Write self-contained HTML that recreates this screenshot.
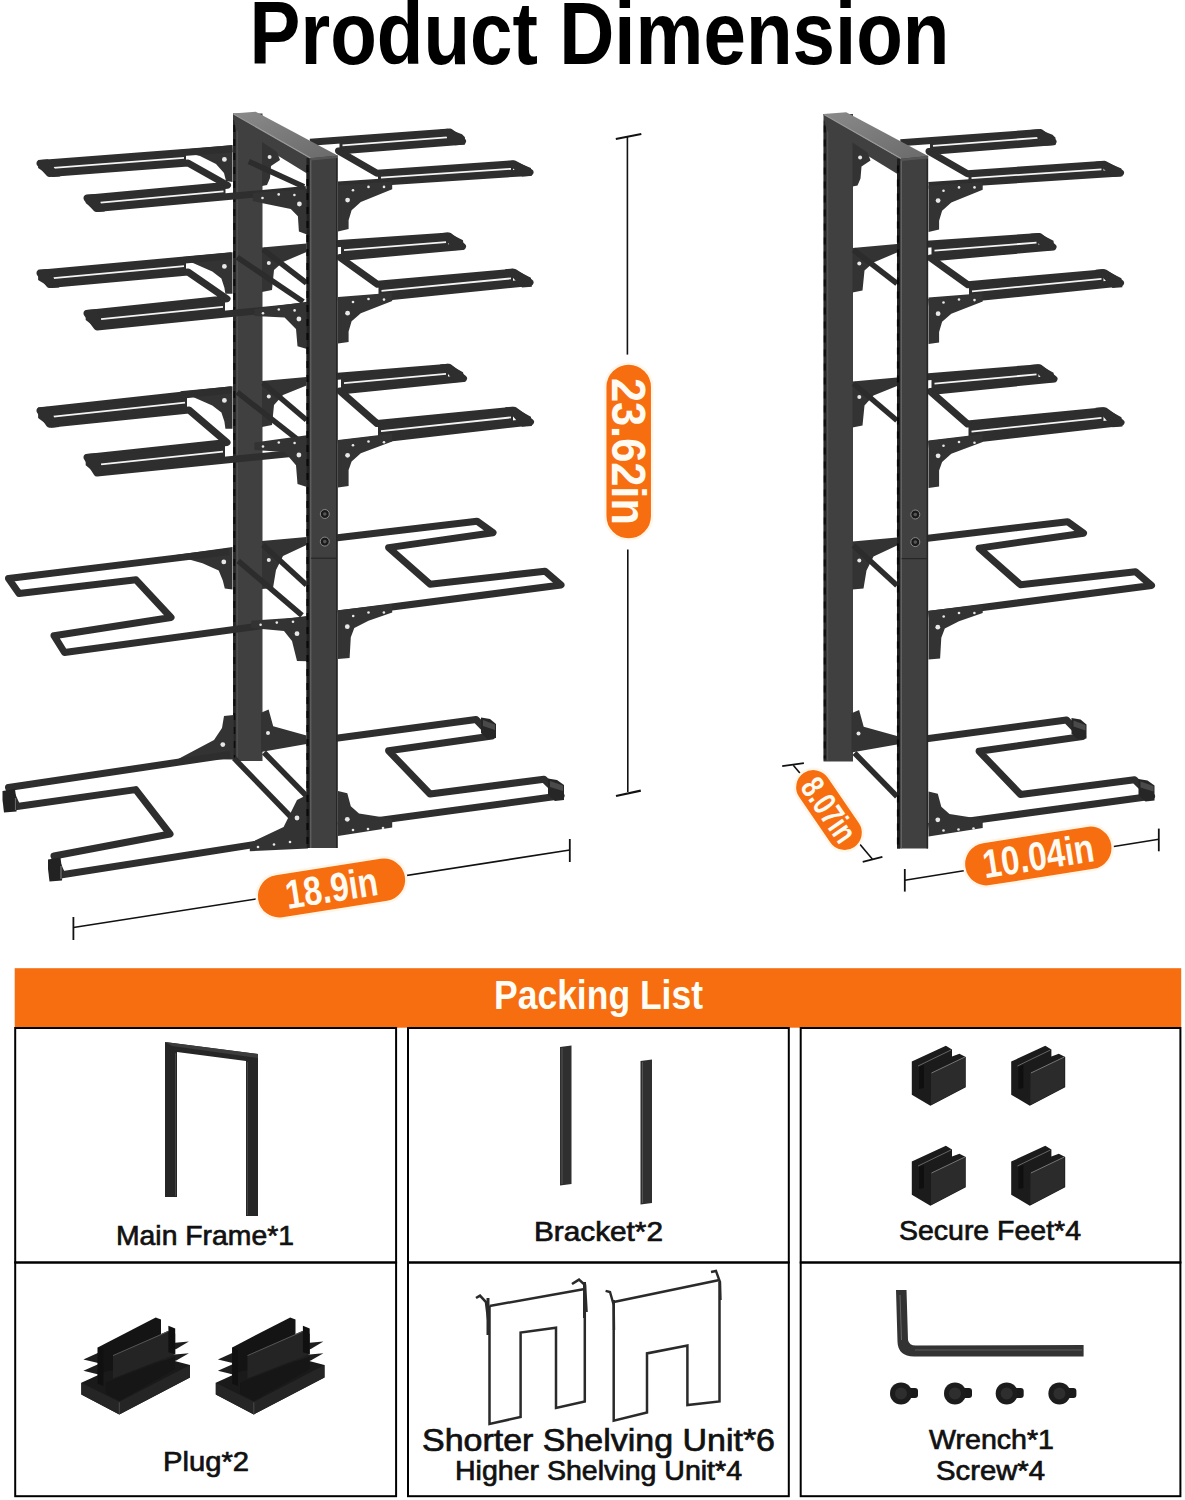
<!DOCTYPE html>
<html><head><meta charset="utf-8"><style>
html,body{margin:0;padding:0;background:#fff;}
svg{display:block;font-family:"Liberation Sans",sans-serif;}
</style></head><body>
<svg width="1185" height="1500" viewBox="0 0 1185 1500">
<rect width="1185" height="1500" fill="#fff"/>
<text x="249.5" y="63.5" font-size="88.5" font-weight="bold" fill="#000" text-anchor="start" textLength="700" lengthAdjust="spacingAndGlyphs" >Product Dimension</text>
<rect x="14.7" y="968.2" width="1166.5" height="59.5" fill="#f76e10"/>
<text x="494" y="1008.5" font-size="41" font-weight="bold" fill="#fffdf5" text-anchor="start" textLength="209" lengthAdjust="spacingAndGlyphs" >Packing List</text>
<rect x="15.2" y="1028" width="380.90000000000003" height="234.5" fill="none" stroke="#000" stroke-width="2"/>
<rect x="15.2" y="1262.5" width="380.90000000000003" height="233.70000000000005" fill="none" stroke="#000" stroke-width="2"/>
<rect x="408" y="1028" width="380.79999999999995" height="234.5" fill="none" stroke="#000" stroke-width="2"/>
<rect x="408" y="1262.5" width="380.79999999999995" height="233.70000000000005" fill="none" stroke="#000" stroke-width="2"/>
<rect x="800.7" y="1028" width="379.70000000000005" height="234.5" fill="none" stroke="#000" stroke-width="2"/>
<rect x="800.7" y="1262.5" width="379.70000000000005" height="233.70000000000005" fill="none" stroke="#000" stroke-width="2"/>
<text x="116" y="1245" font-size="28.5" font-weight="normal" fill="#111" text-anchor="start" textLength="178" lengthAdjust="spacingAndGlyphs" stroke="#111" stroke-width="0.7">Main Frame*1</text>
<text x="534" y="1240.7" font-size="28" font-weight="normal" fill="#111" text-anchor="start" textLength="129" lengthAdjust="spacingAndGlyphs" stroke="#111" stroke-width="0.7">Bracket*2</text>
<text x="899" y="1240" font-size="28" font-weight="normal" fill="#111" text-anchor="start" textLength="182" lengthAdjust="spacingAndGlyphs" stroke="#111" stroke-width="0.7">Secure Feet*4</text>
<text x="163" y="1471" font-size="28" font-weight="normal" fill="#111" text-anchor="start" textLength="86" lengthAdjust="spacingAndGlyphs" stroke="#111" stroke-width="0.7">Plug*2</text>
<text x="422" y="1451" font-size="31" font-weight="normal" fill="#111" text-anchor="start" textLength="353" lengthAdjust="spacingAndGlyphs" stroke="#111" stroke-width="0.7">Shorter Shelving Unit*6</text>
<text x="455" y="1480" font-size="27" font-weight="normal" fill="#111" text-anchor="start" textLength="287" lengthAdjust="spacingAndGlyphs" stroke="#111" stroke-width="0.7">Higher Shelving Unit*4</text>
<text x="929" y="1449.3" font-size="27.5" font-weight="normal" fill="#111" text-anchor="start" textLength="125" lengthAdjust="spacingAndGlyphs" stroke="#111" stroke-width="0.7">Wrench*1</text>
<text x="936" y="1480" font-size="27.5" font-weight="normal" fill="#111" text-anchor="start" textLength="109" lengthAdjust="spacingAndGlyphs" stroke="#111" stroke-width="0.7">Screw*4</text>
<defs><linearGradient id="tbg" x1="0" y1="0" x2="1" y2="1"><stop offset="0" stop-color="#8a8a8a"/><stop offset="1" stop-color="#6a6a6a"/></linearGradient></defs>
<g id="rackL"><polyline points="310.0,142.2 450.0,132.0 462.5,141.3 338.5,151.0 377.0,173.2 514.0,163.8 530.0,172.4 338.0,185.0" fill="none" stroke="#2e2e2e" stroke-width="7" stroke-linejoin="round" stroke-linecap="butt" stroke-miterlimit="6" />
<polygon points="339.5,140.1 449.0,132.1 449.0,142.4 339.5,150.9" fill="#2e2e2e" />
<line x1="342.5" y1="145.3" x2="447.0" y2="137.4" stroke="#f4f4f4" stroke-width="1.8" stroke-linecap="butt"/>
<polygon points="378.0,173.1 513.0,163.9 513.0,173.5 378.0,182.4" fill="#2e2e2e" />
<line x1="381.0" y1="177.6" x2="511.0" y2="168.8" stroke="#f4f4f4" stroke-width="1.8" stroke-linecap="butt"/>
<polygon points="440.0,129.4 447.8,128.8 462.0,134.2 465.0,137.3 465.0,144.4 455.0,145.2" fill="#2e2e2e" />
<polygon points="505.0,161.2 512.7,160.6 530.9,168.0 531.9,175.8 522.0,176.5" fill="#2e2e2e" />
<polyline points="310.0,245.5 449.0,236.0 462.5,246.5 340.0,257.5 377.5,284.3 514.0,272.2 530.0,282.5 338.0,302.0" fill="none" stroke="#2e2e2e" stroke-width="7" stroke-linejoin="round" stroke-linecap="butt" stroke-miterlimit="6" />
<polygon points="341.0,243.4 448.0,236.1 448.0,247.8 341.0,257.4" fill="#2e2e2e" />
<line x1="344.0" y1="250.2" x2="446.0" y2="242.1" stroke="#f4f4f4" stroke-width="1.8" stroke-linecap="butt"/>
<polygon points="378.5,284.2 513.0,272.3 513.0,284.2 378.5,297.9" fill="#2e2e2e" />
<line x1="381.5" y1="290.8" x2="511.0" y2="278.4" stroke="#f4f4f4" stroke-width="1.8" stroke-linecap="butt"/>
<polygon points="440.0,233.2 447.8,232.6 463.0,240.3 464.0,249.4 454.0,250.2" fill="#2e2e2e" />
<polygon points="505.0,269.2 512.7,268.6 530.9,277.7 531.9,286.8 522.0,287.5" fill="#2e2e2e" />
<polyline points="310.0,378.5 449.0,367.2 463.5,378.5 340.0,391.0 377.0,423.5 514.0,410.2 530.5,422.0 338.0,444.0" fill="none" stroke="#2e2e2e" stroke-width="7" stroke-linejoin="round" stroke-linecap="butt" stroke-miterlimit="6" />
<polygon points="341.0,376.0 448.0,367.3 448.0,380.1 341.0,390.9" fill="#2e2e2e" />
<line x1="344.0" y1="383.2" x2="446.0" y2="373.9" stroke="#f4f4f4" stroke-width="1.8" stroke-linecap="butt"/>
<polygon points="378.0,423.4 513.0,410.3 513.0,424.0 378.0,439.4" fill="#2e2e2e" />
<line x1="381.0" y1="431.1" x2="511.0" y2="417.4" stroke="#f4f4f4" stroke-width="1.8" stroke-linecap="butt"/>
<polygon points="440.0,364.4 447.8,363.8 463.0,372.3 465.0,381.4 455.0,382.2" fill="#2e2e2e" />
<polygon points="505.0,407.3 512.7,406.7 530.9,416.8 531.9,426.0 522.0,426.7" fill="#2e2e2e" />
<polyline points="310.0,541.0 477.0,521.2 493.0,532.7 388.6,547.6 430.0,584.2 545.0,571.2 561.0,585.0 338.0,614.0" fill="none" stroke="#2e2e2e" stroke-width="7" stroke-linejoin="round" stroke-linecap="butt" stroke-miterlimit="6" />
<polyline points="310.0,741.8 476.0,719.5 492.0,736.0 388.6,750.8 430.0,794.0 544.0,779.2 561.0,795.8 338.0,826.0" fill="none" stroke="#2e2e2e" stroke-width="7" stroke-linejoin="round" stroke-linecap="butt" stroke-miterlimit="6" />
<polygon points="481.0,717.5 490.0,719.0 496.0,724.0 496.0,738.0 487.0,739.0 481.0,733.0" fill="#262626" />
<polygon points="483.0,720.0 495.0,724.5 495.0,730.0 483.0,726.0" fill="#4a4a4a" />
<polygon points="548.0,778.5 557.0,780.0 564.0,785.0 564.0,800.0 555.0,801.0 548.0,795.0" fill="#262626" />
<polygon points="550.0,781.0 563.0,785.5 563.0,791.0 550.0,787.0" fill="#4a4a4a" />
<polygon points="233.0,113.5 262.5,113.5 262.5,761.0 233.0,761.0" fill="#404040" />
<line x1="234.5" y1="120.0" x2="234.5" y2="760.0" stroke="#262626" stroke-width="2.5" stroke-linecap="butt"/>
<line x1="237.2" y1="130.0" x2="237.2" y2="760.0" stroke="#555" stroke-width="1" stroke-linecap="butt"/>
<line x1="234.3" y1="125" x2="234.3" y2="758" stroke="#0c0c0c" stroke-width="2" stroke-dasharray="7 7"/>
<polygon points="233.0,113.5 310.5,158.2 309.0,174.8 236.0,130.0" fill="#404040" />
<polygon points="262.0,142.0 277.0,152.0 280.0,160.0 271.0,166.0 270.0,178.0 267.0,185.0 262.0,186.0" fill="#333333" />
<circle cx="269.6" cy="157.0" r="2" fill="#e8e8e8"/>
<polygon points="262.0,247.5 306.5,243.5 306.5,252.0 283.0,262.0 274.0,270.0 272.0,290.0 262.0,292.0" fill="#333333" />
<line x1="263.0" y1="249.5" x2="306.5" y2="283.0" stroke="#2c2c2c" stroke-width="5.5" stroke-linecap="butt"/>
<circle cx="268.8" cy="263.0" r="2" fill="#e8e8e8"/>
<polygon points="262.0,381.0 306.5,377.0 306.5,385.5 283.0,395.0 274.0,405.0 272.0,425.0 262.0,427.0" fill="#333333" />
<line x1="263.0" y1="383.0" x2="306.5" y2="420.0" stroke="#2c2c2c" stroke-width="5.5" stroke-linecap="butt"/>
<circle cx="268.8" cy="396.5" r="2" fill="#e8e8e8"/>
<polygon points="262.0,541.0 306.5,537.0 306.5,545.0 283.0,556.0 276.0,570.0 273.0,588.0 262.0,589.0" fill="#333333" />
<line x1="263.0" y1="545.0" x2="306.5" y2="585.0" stroke="#2c2c2c" stroke-width="5.5" stroke-linecap="butt"/>
<circle cx="268.8" cy="560.0" r="2" fill="#e8e8e8"/>
<polygon points="261.0,712.7 268.6,709.6 273.2,726.3 306.5,735.5 306.5,744.0 261.0,752.1" fill="#333333" />
<line x1="264.0" y1="752.5" x2="306.5" y2="796.0" stroke="#2c2c2c" stroke-width="5.5" stroke-linecap="butt"/>
<circle cx="268.0" cy="733.0" r="2" fill="#e8e8e8"/>
<line x1="248.8" y1="161.5" x2="304.0" y2="186.8" stroke="#2c2c2c" stroke-width="5.5" stroke-linecap="butt"/>
<line x1="237.2" y1="257.3" x2="303.2" y2="301.8" stroke="#2c2c2c" stroke-width="5.5" stroke-linecap="butt"/>
<line x1="237.2" y1="392.2" x2="303.2" y2="443.8" stroke="#2c2c2c" stroke-width="5.5" stroke-linecap="butt"/>
<line x1="238.2" y1="560.8" x2="302.0" y2="615.4" stroke="#2c2c2c" stroke-width="5.5" stroke-linecap="butt"/>
<line x1="234.0" y1="758.2" x2="292.9" y2="819.0" stroke="#2c2c2c" stroke-width="5.5" stroke-linecap="butt"/>
<polygon points="176.0,150.3 232.5,145.0 232.5,182.0 226.0,181.0 224.0,173.0 216.0,164.0 200.0,156.0" fill="#333333" />
<circle cx="224.4" cy="159.4" r="2.4" fill="#e8e8e8"/>
<polygon points="179.9,257.3 232.5,252.2 232.5,293.7 225.4,293.7 224.4,287.7 221.4,278.5 212.3,271.5" fill="#333333" />
<circle cx="224.4" cy="266.4" r="2.4" fill="#e8e8e8"/>
<polygon points="179.9,391.3 232.5,386.2 232.5,428.7 225.4,428.7 224.4,421.6 221.4,412.5 212.3,405.4" fill="#333333" />
<circle cx="224.4" cy="400.4" r="2.4" fill="#e8e8e8"/>
<polygon points="174.2,555.2 232.5,547.1 232.5,589.6 224.8,588.6 222.8,580.5 218.7,570.4 202.5,563.3" fill="#333333" />
<circle cx="223.8" cy="561.9" r="2.4" fill="#e8e8e8"/>
<polygon points="178.2,759.0 214.0,740.0 222.0,728.0 224.0,716.0 233.6,714.9 233.6,759.4" fill="#333333" />
<circle cx="222.8" cy="744.6" r="2.4" fill="#e8e8e8"/>
<polyline points="232.5,148.7 40.0,163.4 49.5,173.6 188.0,163.0 227.5,185.2 87.0,198.3 96.5,208.5 306.0,189.6" fill="none" stroke="#2e2e2e" stroke-width="7" stroke-linejoin="round" stroke-linecap="butt" stroke-miterlimit="6" />
<polygon points="50.5,162.6 186.0,152.3 186.0,163.2 50.5,173.5" fill="#2e2e2e" />
<line x1="53.5" y1="167.8" x2="184.0" y2="157.9" stroke="#f4f4f4" stroke-width="1.8" stroke-linecap="butt"/>
<polygon points="97.5,197.3 225.5,185.4 225.5,196.9 97.5,208.4" fill="#2e2e2e" />
<line x1="100.5" y1="202.6" x2="223.5" y2="191.3" stroke="#f4f4f4" stroke-width="1.8" stroke-linecap="butt"/>
<polygon points="38.1,160.0 48.1,159.2 60.3,176.4 52.3,177.0 38.1,168.0" fill="#2e2e2e" />
<polygon points="85.7,194.8 95.7,194.0 104.8,211.4 96.8,212.0 85.7,203.0" fill="#2e2e2e" />
<polyline points="231.5,255.7 40.0,273.2 49.5,284.6 188.0,272.0 227.0,298.8 87.0,313.4 97.0,326.9 306.0,306.0" fill="none" stroke="#2e2e2e" stroke-width="7" stroke-linejoin="round" stroke-linecap="butt" stroke-miterlimit="6" />
<polygon points="50.5,272.2 186.0,259.9 186.0,272.2 50.5,284.5" fill="#2e2e2e" />
<line x1="53.5" y1="278.1" x2="184.0" y2="266.2" stroke="#f4f4f4" stroke-width="1.8" stroke-linecap="butt"/>
<polygon points="98.0,312.3 225.0,299.0 225.0,314.1 98.0,326.8" fill="#2e2e2e" />
<line x1="101.0" y1="319.2" x2="223.0" y2="306.8" stroke="#f4f4f4" stroke-width="1.8" stroke-linecap="butt"/>
<polygon points="38.1,269.8 48.1,269.0 59.3,287.4 51.3,288.0 38.1,280.0" fill="#2e2e2e" />
<polygon points="85.7,310.0 95.7,309.2 105.8,328.6 97.8,329.2 85.7,320.0" fill="#2e2e2e" />
<polyline points="231.5,389.7 40.0,410.8 49.5,424.3 189.0,410.0 227.0,442.5 87.0,457.4 97.0,473.0 306.0,452.0" fill="none" stroke="#2e2e2e" stroke-width="7" stroke-linejoin="round" stroke-linecap="butt" stroke-miterlimit="6" />
<polygon points="50.5,409.6 187.0,394.6 187.0,410.2 50.5,424.2" fill="#2e2e2e" />
<line x1="53.5" y1="416.6" x2="185.0" y2="402.6" stroke="#f4f4f4" stroke-width="1.8" stroke-linecap="butt"/>
<polygon points="98.0,456.2 225.0,442.7 225.0,460.1 98.0,472.9" fill="#2e2e2e" />
<line x1="101.0" y1="464.3" x2="223.0" y2="451.6" stroke="#f4f4f4" stroke-width="1.8" stroke-linecap="butt"/>
<polygon points="38.1,407.5 48.1,406.7 59.3,427.1 51.3,427.7 38.1,418.0" fill="#2e2e2e" />
<polygon points="85.7,454.0 95.7,453.2 105.8,474.7 97.8,475.3 85.7,465.2" fill="#2e2e2e" />
<polyline points="229.0,551.6 8.5,578.5 19.0,593.5 136.0,579.8 171.0,617.5 54.0,635.7 64.5,652.5 307.0,619.5" fill="none" stroke="#2e2e2e" stroke-width="7" stroke-linejoin="round" stroke-linecap="butt" stroke-miterlimit="6" />
<polyline points="230.0,754.5 8.5,787.5 17.0,806.5 135.7,789.6 170.0,834.0 54.0,856.0 62.0,874.8 307.0,836.3" fill="none" stroke="#2e2e2e" stroke-width="7" stroke-linejoin="round" stroke-linecap="butt" stroke-miterlimit="6" />
<polygon points="2.5,791.0 15.0,789.0 17.0,805.0 16.5,811.5 4.0,812.5 2.5,800.0" fill="#222" />
<polygon points="48.0,859.5 60.5,857.5 62.5,873.0 62.0,880.5 49.5,881.5 48.0,869.0" fill="#222" />
<line x1="15.5" y1="798.0" x2="15.5" y2="810.0" stroke="#666" stroke-width="1.2" stroke-linecap="butt"/>
<line x1="61.0" y1="866.0" x2="61.0" y2="879.0" stroke="#777" stroke-width="1.2" stroke-linecap="butt"/>
<polygon points="252.8,192.9 307.0,188.9 307.0,234.4 298.9,231.4 297.9,216.2 290.8,209.1 261.5,203.0 252.8,201.0" fill="#333333" />
<circle cx="262.5" cy="198.0" r="1.3" fill="#e8e8e8"/>
<circle cx="278.7" cy="194.4" r="1.3" fill="#e8e8e8"/>
<circle cx="294.4" cy="195.0" r="1.3" fill="#e8e8e8"/>
<circle cx="299.4" cy="204.0" r="2.4" fill="#e8e8e8"/>
<polygon points="254.4,309.0 307.0,301.8 307.0,349.1 297.5,346.3 296.0,329.0 284.6,317.6 254.4,316.1" fill="#333333" />
<circle cx="263.0" cy="313.3" r="1.3" fill="#e8e8e8"/>
<circle cx="278.8" cy="309.5" r="1.3" fill="#e8e8e8"/>
<circle cx="294.6" cy="310.4" r="1.3" fill="#e8e8e8"/>
<circle cx="298.9" cy="319.0" r="2.4" fill="#e8e8e8"/>
<polygon points="254.4,442.4 307.0,435.2 307.0,486.9 297.5,484.0 296.0,465.3 284.6,452.0 254.4,450.0" fill="#333333" />
<circle cx="263.0" cy="446.5" r="1.3" fill="#e8e8e8"/>
<circle cx="278.8" cy="442.5" r="1.3" fill="#e8e8e8"/>
<circle cx="294.6" cy="443.0" r="1.3" fill="#e8e8e8"/>
<circle cx="298.9" cy="455.0" r="2.4" fill="#e8e8e8"/>
<polygon points="251.1,620.7 307.9,616.7 307.9,661.2 297.0,661.0 292.0,641.0 284.0,631.0 251.1,628.0" fill="#333333" />
<circle cx="260.6" cy="624.8" r="1.3" fill="#e8e8e8"/>
<circle cx="276.8" cy="622.6" r="1.3" fill="#e8e8e8"/>
<circle cx="293.0" cy="621.8" r="1.3" fill="#e8e8e8"/>
<circle cx="297.0" cy="633.7" r="2.4" fill="#e8e8e8"/>
<polygon points="249.8,843.1 283.6,827.0 297.0,800.0 307.9,794.5 307.9,848.5 249.8,851.2" fill="#333333" />
<circle cx="258.0" cy="847.0" r="1.3" fill="#e8e8e8"/>
<circle cx="274.0" cy="844.5" r="1.3" fill="#e8e8e8"/>
<circle cx="290.0" cy="842.0" r="1.3" fill="#e8e8e8"/>
<circle cx="297.0" cy="818.0" r="2.4" fill="#e8e8e8"/>
<polygon points="306.5,156.0 337.6,155.2 337.6,848.0 306.5,848.0" fill="#404040" />
<line x1="308.0" y1="158.0" x2="308.0" y2="848.0" stroke="#1f1f1f" stroke-width="3" stroke-linecap="butt"/>
<line x1="310.8" y1="160.0" x2="310.8" y2="848.0" stroke="#6a6a6a" stroke-width="1" stroke-linecap="butt"/>
<line x1="307.5" y1="165" x2="307.5" y2="845" stroke="#0a0a0a" stroke-width="2.2" stroke-dasharray="7 7"/>
<line x1="336.8" y1="158.0" x2="336.8" y2="848.0" stroke="#262626" stroke-width="1.6" stroke-linecap="butt"/>
<line x1="311.0" y1="558.2" x2="336.0" y2="558.2" stroke="#222" stroke-width="1" stroke-linecap="butt"/>
<circle cx="324.8" cy="514" r="4.5" fill="#1a1a1a" stroke="#8a8a8a" stroke-width="1"/>
<circle cx="324.8" cy="514" r="1.8" fill="#555"/>
<circle cx="324.8" cy="541.6" r="4.5" fill="#1a1a1a" stroke="#8a8a8a" stroke-width="1"/>
<circle cx="324.8" cy="541.6" r="1.8" fill="#555"/>
<polygon points="232.9,113.5 255.7,111.8 337.6,155.4 310.5,158.2" fill="url(#tbg)" />
<line x1="233.5" y1="114.0" x2="310.5" y2="158.0" stroke="#9a9a9a" stroke-width="1.2" stroke-linecap="butt"/>
<polygon points="310.5,158.2 337.6,155.4 337.6,158.0 310.5,160.5" fill="#555" />
<polygon points="338.0,185.2 392.2,181.5 392.2,189.2 360.8,202.1 351.6,210.2 348.6,220.3 348.6,229.0 338.0,231.5" fill="#333333" />
<circle cx="353.0" cy="190.3" r="1.3" fill="#e8e8e8"/>
<circle cx="368.5" cy="186.9" r="1.3" fill="#e8e8e8"/>
<circle cx="384.0" cy="186.9" r="1.3" fill="#e8e8e8"/>
<circle cx="347.6" cy="200.1" r="2.4" fill="#e8e8e8"/>
<polygon points="338.0,297.0 392.2,292.8 392.2,301.0 360.8,313.2 351.6,321.3 348.6,331.4 348.6,342.0 338.0,343.5" fill="#333333" />
<circle cx="353.0" cy="302.0" r="1.3" fill="#e8e8e8"/>
<circle cx="368.5" cy="299.0" r="1.3" fill="#e8e8e8"/>
<circle cx="384.0" cy="299.6" r="1.3" fill="#e8e8e8"/>
<circle cx="347.6" cy="313.2" r="2.4" fill="#e8e8e8"/>
<polygon points="338.0,440.1 392.2,433.6 392.2,441.5 360.8,453.3 351.6,461.4 348.6,470.0 348.6,486.0 338.0,487.5" fill="#333333" />
<circle cx="353.0" cy="445.2" r="1.3" fill="#e8e8e8"/>
<circle cx="368.5" cy="441.5" r="1.3" fill="#e8e8e8"/>
<circle cx="384.0" cy="442.2" r="1.3" fill="#e8e8e8"/>
<circle cx="347.6" cy="455.3" r="2.4" fill="#e8e8e8"/>
<polygon points="338.0,610.2 392.2,604.0 392.2,612.5 368.5,620.8 354.3,627.9 350.8,637.3 349.6,658.0 338.0,659.0" fill="#333333" />
<circle cx="353.2" cy="616.0" r="1.3" fill="#e8e8e8"/>
<circle cx="368.5" cy="612.5" r="1.3" fill="#e8e8e8"/>
<circle cx="383.9" cy="612.5" r="1.3" fill="#e8e8e8"/>
<circle cx="347.3" cy="626.7" r="2.4" fill="#e8e8e8"/>
<polygon points="338.0,791.0 347.3,793.3 350.8,806.3 359.0,813.4 392.2,818.8 392.2,827.6 338.0,835.9" fill="#333333" />
<circle cx="353.0" cy="830.0" r="1.3" fill="#e8e8e8"/>
<circle cx="368.0" cy="829.0" r="1.3" fill="#e8e8e8"/>
<circle cx="383.0" cy="828.0" r="1.3" fill="#e8e8e8"/>
<circle cx="347.3" cy="819.3" r="2.4" fill="#e8e8e8"/></g>
<g transform="translate(590.5,0.5)"><polyline points="310.0,142.2 450.0,132.0 462.5,141.3 338.5,151.0 377.0,173.2 514.0,163.8 530.0,172.4 338.0,185.0" fill="none" stroke="#2e2e2e" stroke-width="7" stroke-linejoin="round" stroke-linecap="butt" stroke-miterlimit="6" />
<polygon points="339.5,140.1 449.0,132.1 449.0,142.4 339.5,150.9" fill="#2e2e2e" />
<line x1="342.5" y1="145.3" x2="447.0" y2="137.4" stroke="#f4f4f4" stroke-width="1.8" stroke-linecap="butt"/>
<polygon points="378.0,173.1 513.0,163.9 513.0,173.5 378.0,182.4" fill="#2e2e2e" />
<line x1="381.0" y1="177.6" x2="511.0" y2="168.8" stroke="#f4f4f4" stroke-width="1.8" stroke-linecap="butt"/>
<polygon points="440.0,129.4 447.8,128.8 462.0,134.2 465.0,137.3 465.0,144.4 455.0,145.2" fill="#2e2e2e" />
<polygon points="505.0,161.2 512.7,160.6 530.9,168.0 531.9,175.8 522.0,176.5" fill="#2e2e2e" />
<polyline points="310.0,245.5 449.0,236.0 462.5,246.5 340.0,257.5 377.5,284.3 514.0,272.2 530.0,282.5 338.0,302.0" fill="none" stroke="#2e2e2e" stroke-width="7" stroke-linejoin="round" stroke-linecap="butt" stroke-miterlimit="6" />
<polygon points="341.0,243.4 448.0,236.1 448.0,247.8 341.0,257.4" fill="#2e2e2e" />
<line x1="344.0" y1="250.2" x2="446.0" y2="242.1" stroke="#f4f4f4" stroke-width="1.8" stroke-linecap="butt"/>
<polygon points="378.5,284.2 513.0,272.3 513.0,284.2 378.5,297.9" fill="#2e2e2e" />
<line x1="381.5" y1="290.8" x2="511.0" y2="278.4" stroke="#f4f4f4" stroke-width="1.8" stroke-linecap="butt"/>
<polygon points="440.0,233.2 447.8,232.6 463.0,240.3 464.0,249.4 454.0,250.2" fill="#2e2e2e" />
<polygon points="505.0,269.2 512.7,268.6 530.9,277.7 531.9,286.8 522.0,287.5" fill="#2e2e2e" />
<polyline points="310.0,378.5 449.0,367.2 463.5,378.5 340.0,391.0 377.0,423.5 514.0,410.2 530.5,422.0 338.0,444.0" fill="none" stroke="#2e2e2e" stroke-width="7" stroke-linejoin="round" stroke-linecap="butt" stroke-miterlimit="6" />
<polygon points="341.0,376.0 448.0,367.3 448.0,380.1 341.0,390.9" fill="#2e2e2e" />
<line x1="344.0" y1="383.2" x2="446.0" y2="373.9" stroke="#f4f4f4" stroke-width="1.8" stroke-linecap="butt"/>
<polygon points="378.0,423.4 513.0,410.3 513.0,424.0 378.0,439.4" fill="#2e2e2e" />
<line x1="381.0" y1="431.1" x2="511.0" y2="417.4" stroke="#f4f4f4" stroke-width="1.8" stroke-linecap="butt"/>
<polygon points="440.0,364.4 447.8,363.8 463.0,372.3 465.0,381.4 455.0,382.2" fill="#2e2e2e" />
<polygon points="505.0,407.3 512.7,406.7 530.9,416.8 531.9,426.0 522.0,426.7" fill="#2e2e2e" />
<polyline points="310.0,541.0 477.0,521.2 493.0,532.7 388.6,547.6 430.0,584.2 545.0,571.2 561.0,585.0 338.0,614.0" fill="none" stroke="#2e2e2e" stroke-width="7" stroke-linejoin="round" stroke-linecap="butt" stroke-miterlimit="6" />
<polyline points="310.0,741.8 476.0,719.5 492.0,736.0 388.6,750.8 430.0,794.0 544.0,779.2 561.0,795.8 338.0,826.0" fill="none" stroke="#2e2e2e" stroke-width="7" stroke-linejoin="round" stroke-linecap="butt" stroke-miterlimit="6" />
<polygon points="481.0,717.5 490.0,719.0 496.0,724.0 496.0,738.0 487.0,739.0 481.0,733.0" fill="#262626" />
<polygon points="483.0,720.0 495.0,724.5 495.0,730.0 483.0,726.0" fill="#4a4a4a" />
<polygon points="548.0,778.5 557.0,780.0 564.0,785.0 564.0,800.0 555.0,801.0 548.0,795.0" fill="#262626" />
<polygon points="550.0,781.0 563.0,785.5 563.0,791.0 550.0,787.0" fill="#4a4a4a" />
<polygon points="233.0,113.5 262.5,113.5 262.5,761.0 233.0,761.0" fill="#404040" />
<line x1="234.5" y1="120.0" x2="234.5" y2="760.0" stroke="#262626" stroke-width="2.5" stroke-linecap="butt"/>
<line x1="237.2" y1="130.0" x2="237.2" y2="760.0" stroke="#555" stroke-width="1" stroke-linecap="butt"/>
<line x1="234.3" y1="125" x2="234.3" y2="758" stroke="#0c0c0c" stroke-width="2" stroke-dasharray="7 7"/>
<polygon points="233.0,113.5 310.5,158.2 309.0,174.8 236.0,130.0" fill="#404040" />
<polygon points="262.0,142.0 277.0,152.0 280.0,160.0 271.0,166.0 270.0,178.0 267.0,185.0 262.0,186.0" fill="#333333" />
<circle cx="269.6" cy="157.0" r="2" fill="#e8e8e8"/>
<polygon points="262.0,247.5 306.5,243.5 306.5,252.0 283.0,262.0 274.0,270.0 272.0,290.0 262.0,292.0" fill="#333333" />
<line x1="263.0" y1="249.5" x2="306.5" y2="283.0" stroke="#2c2c2c" stroke-width="5.5" stroke-linecap="butt"/>
<circle cx="268.8" cy="263.0" r="2" fill="#e8e8e8"/>
<polygon points="262.0,381.0 306.5,377.0 306.5,385.5 283.0,395.0 274.0,405.0 272.0,425.0 262.0,427.0" fill="#333333" />
<line x1="263.0" y1="383.0" x2="306.5" y2="420.0" stroke="#2c2c2c" stroke-width="5.5" stroke-linecap="butt"/>
<circle cx="268.8" cy="396.5" r="2" fill="#e8e8e8"/>
<polygon points="262.0,541.0 306.5,537.0 306.5,545.0 283.0,556.0 276.0,570.0 273.0,588.0 262.0,589.0" fill="#333333" />
<line x1="263.0" y1="545.0" x2="306.5" y2="585.0" stroke="#2c2c2c" stroke-width="5.5" stroke-linecap="butt"/>
<circle cx="268.8" cy="560.0" r="2" fill="#e8e8e8"/>
<polygon points="261.0,712.7 268.6,709.6 273.2,726.3 306.5,735.5 306.5,744.0 261.0,752.1" fill="#333333" />
<line x1="264.0" y1="752.5" x2="306.5" y2="796.0" stroke="#2c2c2c" stroke-width="5.5" stroke-linecap="butt"/>
<circle cx="268.0" cy="733.0" r="2" fill="#e8e8e8"/>
<polygon points="306.5,156.0 337.6,155.2 337.6,848.0 306.5,848.0" fill="#404040" />
<line x1="308.0" y1="158.0" x2="308.0" y2="848.0" stroke="#1f1f1f" stroke-width="3" stroke-linecap="butt"/>
<line x1="310.8" y1="160.0" x2="310.8" y2="848.0" stroke="#6a6a6a" stroke-width="1" stroke-linecap="butt"/>
<line x1="307.5" y1="165" x2="307.5" y2="845" stroke="#0a0a0a" stroke-width="2.2" stroke-dasharray="7 7"/>
<line x1="336.8" y1="158.0" x2="336.8" y2="848.0" stroke="#262626" stroke-width="1.6" stroke-linecap="butt"/>
<line x1="311.0" y1="558.2" x2="336.0" y2="558.2" stroke="#222" stroke-width="1" stroke-linecap="butt"/>
<circle cx="324.8" cy="514" r="4.5" fill="#1a1a1a" stroke="#8a8a8a" stroke-width="1"/>
<circle cx="324.8" cy="514" r="1.8" fill="#555"/>
<circle cx="324.8" cy="541.6" r="4.5" fill="#1a1a1a" stroke="#8a8a8a" stroke-width="1"/>
<circle cx="324.8" cy="541.6" r="1.8" fill="#555"/>
<polygon points="232.9,113.5 255.7,111.8 337.6,155.4 310.5,158.2" fill="url(#tbg)" />
<line x1="233.5" y1="114.0" x2="310.5" y2="158.0" stroke="#9a9a9a" stroke-width="1.2" stroke-linecap="butt"/>
<polygon points="310.5,158.2 337.6,155.4 337.6,158.0 310.5,160.5" fill="#555" />
<polygon points="338.0,185.2 392.2,181.5 392.2,189.2 360.8,202.1 351.6,210.2 348.6,220.3 348.6,229.0 338.0,231.5" fill="#333333" />
<circle cx="353.0" cy="190.3" r="1.3" fill="#e8e8e8"/>
<circle cx="368.5" cy="186.9" r="1.3" fill="#e8e8e8"/>
<circle cx="384.0" cy="186.9" r="1.3" fill="#e8e8e8"/>
<circle cx="347.6" cy="200.1" r="2.4" fill="#e8e8e8"/>
<polygon points="338.0,297.0 392.2,292.8 392.2,301.0 360.8,313.2 351.6,321.3 348.6,331.4 348.6,342.0 338.0,343.5" fill="#333333" />
<circle cx="353.0" cy="302.0" r="1.3" fill="#e8e8e8"/>
<circle cx="368.5" cy="299.0" r="1.3" fill="#e8e8e8"/>
<circle cx="384.0" cy="299.6" r="1.3" fill="#e8e8e8"/>
<circle cx="347.6" cy="313.2" r="2.4" fill="#e8e8e8"/>
<polygon points="338.0,440.1 392.2,433.6 392.2,441.5 360.8,453.3 351.6,461.4 348.6,470.0 348.6,486.0 338.0,487.5" fill="#333333" />
<circle cx="353.0" cy="445.2" r="1.3" fill="#e8e8e8"/>
<circle cx="368.5" cy="441.5" r="1.3" fill="#e8e8e8"/>
<circle cx="384.0" cy="442.2" r="1.3" fill="#e8e8e8"/>
<circle cx="347.6" cy="455.3" r="2.4" fill="#e8e8e8"/>
<polygon points="338.0,610.2 392.2,604.0 392.2,612.5 368.5,620.8 354.3,627.9 350.8,637.3 349.6,658.0 338.0,659.0" fill="#333333" />
<circle cx="353.2" cy="616.0" r="1.3" fill="#e8e8e8"/>
<circle cx="368.5" cy="612.5" r="1.3" fill="#e8e8e8"/>
<circle cx="383.9" cy="612.5" r="1.3" fill="#e8e8e8"/>
<circle cx="347.3" cy="626.7" r="2.4" fill="#e8e8e8"/>
<polygon points="338.0,791.0 347.3,793.3 350.8,806.3 359.0,813.4 392.2,818.8 392.2,827.6 338.0,835.9" fill="#333333" />
<circle cx="353.0" cy="830.0" r="1.3" fill="#e8e8e8"/>
<circle cx="368.0" cy="829.0" r="1.3" fill="#e8e8e8"/>
<circle cx="383.0" cy="828.0" r="1.3" fill="#e8e8e8"/>
<circle cx="347.3" cy="819.3" r="2.4" fill="#e8e8e8"/></g>
<line x1="627.4" y1="137.0" x2="627.4" y2="354.6" stroke="#111" stroke-width="1.6" stroke-linecap="butt"/>
<line x1="627.8" y1="549.6" x2="627.8" y2="792.0" stroke="#111" stroke-width="1.6" stroke-linecap="butt"/>
<line x1="615.8" y1="139.0" x2="641.3" y2="134.0" stroke="#111" stroke-width="2" stroke-linecap="butt"/>
<line x1="616.0" y1="796.0" x2="640.8" y2="790.6" stroke="#111" stroke-width="2.2" stroke-linecap="butt"/>
<g transform="translate(628.7,451.4) rotate(90)"><rect x="-88.0" y="-23.5" width="176" height="47" rx="23.5" fill="#f76e10" stroke="#fff6ea" stroke-width="2.5"/><text x="0" y="16.5" font-size="48" font-weight="bold" fill="#fffbf2" text-anchor="middle" textLength="147" lengthAdjust="spacingAndGlyphs">23.62in</text></g>
<line x1="73.4" y1="927.5" x2="569.8" y2="850.0" stroke="#111" stroke-width="1.6" stroke-linecap="butt"/>
<line x1="73.4" y1="917.0" x2="73.4" y2="940.0" stroke="#111" stroke-width="1.8" stroke-linecap="butt"/>
<line x1="569.8" y1="839.0" x2="569.8" y2="862.0" stroke="#111" stroke-width="1.8" stroke-linecap="butt"/>
<g transform="translate(331.5,888) rotate(-8.9)"><rect x="-75.5" y="-22.5" width="151" height="45" rx="22.5" fill="#f76e10" stroke="#fff6ea" stroke-width="2.5"/><text x="0" y="13.9" font-size="40.5" font-weight="bold" fill="#fffbf2" text-anchor="middle" textLength="93" lengthAdjust="spacingAndGlyphs">18.9in</text></g>
<line x1="904.8" y1="880.3" x2="1158.8" y2="839.2" stroke="#111" stroke-width="1.6" stroke-linecap="butt"/>
<line x1="904.8" y1="869.0" x2="904.8" y2="891.6" stroke="#111" stroke-width="1.8" stroke-linecap="butt"/>
<line x1="1158.8" y1="828.6" x2="1158.8" y2="851.3" stroke="#111" stroke-width="1.8" stroke-linecap="butt"/>
<g transform="translate(1038.3,856) rotate(-8.9)"><rect x="-75.0" y="-22.5" width="150" height="45" rx="22.5" fill="#f76e10" stroke="#fff6ea" stroke-width="2.5"/><text x="0" y="13.8" font-size="40" font-weight="bold" fill="#fffbf2" text-anchor="middle" textLength="112" lengthAdjust="spacingAndGlyphs">10.04in</text></g>
<line x1="793.3" y1="765.2" x2="872.3" y2="858.9" stroke="#111" stroke-width="1.6" stroke-linecap="butt"/>
<line x1="782.2" y1="766.2" x2="803.9" y2="763.2" stroke="#111" stroke-width="1.8" stroke-linecap="butt"/>
<line x1="862.7" y1="861.9" x2="882.4" y2="856.8" stroke="#111" stroke-width="1.8" stroke-linecap="butt"/>
<g transform="translate(829,810) rotate(55.5)"><rect x="-46.0" y="-18.5" width="92" height="37" rx="18.5" fill="#f76e10" stroke="#fff6ea" stroke-width="2.5"/><text x="0" y="11.4" font-size="33" font-weight="bold" fill="#fffbf2" text-anchor="middle" textLength="71" lengthAdjust="spacingAndGlyphs">8.07in</text></g>
<polygon points="165.0,1042.0 258.0,1054.0 258.0,1216.0 246.0,1216.0 246.0,1061.0 177.0,1052.0 177.0,1197.0 165.0,1197.0" fill="#262626" />
<polygon points="165.0,1042.0 258.0,1054.0 258.0,1058.0 172.0,1046.0" fill="#3c3c3c" />
<line x1="175.5" y1="1053.0" x2="175.5" y2="1196.0" stroke="#444" stroke-width="1" stroke-linecap="butt"/>
<line x1="247.5" y1="1062.0" x2="247.5" y2="1215.0" stroke="#444" stroke-width="1" stroke-linecap="butt"/>
<polygon points="560.0,1047.0 571.5,1045.5 571.5,1184.0 560.0,1185.5" fill="#2f2f2f" />
<polygon points="640.5,1061.0 652.0,1059.5 652.0,1203.0 640.5,1204.5" fill="#2f2f2f" />
<line x1="562.0" y1="1048.0" x2="562.0" y2="1184.0" stroke="#555" stroke-width="1" stroke-linecap="butt"/>
<line x1="642.5" y1="1062.0" x2="642.5" y2="1203.0" stroke="#555" stroke-width="1" stroke-linecap="butt"/>
<polygon points="911.8,1061.6 945.9,1045.7 952.0,1049.5 952.0,1056.5 959.4,1053.8 965.8,1056.9 965.8,1087.3 930.4,1105.8 911.8,1094.7" fill="#1b1b1b" />
<polygon points="931.0,1073.1 965.0,1057.5 965.0,1087.0 931.0,1105.0" fill="#2b2b2b" />
<line x1="931.5" y1="1073.0" x2="965.0" y2="1057.0" stroke="#777" stroke-width="1" stroke-linecap="butt"/>
<line x1="918.0" y1="1066.0" x2="951.0" y2="1050.0" stroke="#666" stroke-width="1" stroke-linecap="butt"/>
<polygon points="919.0,1067.0 924.0,1065.0 924.0,1088.0 919.0,1089.0" fill="#0f0f0f" />
<polygon points="1011.2,1061.6 1045.3,1045.7 1051.4,1049.5 1051.4,1056.5 1058.8,1053.8 1065.2,1056.9 1065.2,1087.3 1029.8,1105.8 1011.2,1094.7" fill="#1b1b1b" />
<polygon points="1030.4,1073.1 1064.4,1057.5 1064.4,1087.0 1030.4,1105.0" fill="#2b2b2b" />
<line x1="1030.9" y1="1073.0" x2="1064.4" y2="1057.0" stroke="#777" stroke-width="1" stroke-linecap="butt"/>
<line x1="1017.4" y1="1066.0" x2="1050.4" y2="1050.0" stroke="#666" stroke-width="1" stroke-linecap="butt"/>
<polygon points="1018.4,1067.0 1023.4,1065.0 1023.4,1088.0 1018.4,1089.0" fill="#0f0f0f" />
<polygon points="911.8,1161.6 945.9,1145.7 952.0,1149.5 952.0,1156.5 959.4,1153.8 965.8,1156.9 965.8,1187.3 930.4,1205.8 911.8,1194.7" fill="#1b1b1b" />
<polygon points="931.0,1173.1 965.0,1157.5 965.0,1187.0 931.0,1205.0" fill="#2b2b2b" />
<line x1="931.5" y1="1173.0" x2="965.0" y2="1157.0" stroke="#777" stroke-width="1" stroke-linecap="butt"/>
<line x1="918.0" y1="1166.0" x2="951.0" y2="1150.0" stroke="#666" stroke-width="1" stroke-linecap="butt"/>
<polygon points="919.0,1167.0 924.0,1165.0 924.0,1188.0 919.0,1189.0" fill="#0f0f0f" />
<polygon points="1011.2,1161.6 1045.3,1145.7 1051.4,1149.5 1051.4,1156.5 1058.8,1153.8 1065.2,1156.9 1065.2,1187.3 1029.8,1205.8 1011.2,1194.7" fill="#1b1b1b" />
<polygon points="1030.4,1173.1 1064.4,1157.5 1064.4,1187.0 1030.4,1205.0" fill="#2b2b2b" />
<line x1="1030.9" y1="1173.0" x2="1064.4" y2="1157.0" stroke="#777" stroke-width="1" stroke-linecap="butt"/>
<line x1="1017.4" y1="1166.0" x2="1050.4" y2="1150.0" stroke="#666" stroke-width="1" stroke-linecap="butt"/>
<polygon points="1018.4,1167.0 1023.4,1165.0 1023.4,1188.0 1018.4,1189.0" fill="#0f0f0f" />
<polygon points="83.4,1359.6 106.6,1349.0 188.9,1341.6 176.3,1349.0 106.6,1364.9" fill="#1e1e1e" />
<polygon points="83.4,1370.7 106.6,1360.6 188.9,1353.2 176.3,1360.6 106.6,1376.5" fill="#1e1e1e" />
<polygon points="97.7,1347.4 155.7,1317.4 161.0,1319.5 161.0,1354.3 103.5,1385.9 97.7,1383.8" fill="#141414" />
<polygon points="81.3,1382.8 106.6,1371.2 168.9,1359.6 190.0,1364.9 190.0,1377.5 119.3,1414.4 81.3,1394.4" fill="#1a1a1a" />
<polygon points="81.3,1382.8 119.3,1401.8 190.0,1364.9 190.0,1377.5 119.3,1414.4 81.3,1394.4" fill="#252525" />
<polygon points="105.6,1382.8 175.2,1356.4 175.2,1369.1 119.3,1400.7 105.6,1393.3" fill="#161616" />
<polygon points="113.0,1355.4 167.8,1331.1 175.2,1333.7 175.2,1354.3 113.0,1378.6" fill="#242424" />
<line x1="113.0" y1="1355.6" x2="167.8" y2="1331.6" stroke="#555" stroke-width="1" stroke-linecap="butt"/>
<polygon points="97.7,1347.4 103.5,1349.0 103.5,1385.9 97.7,1383.8" fill="#101010" />
<polygon points="168.4,1325.8 175.2,1328.5 175.2,1354.3 168.4,1352.2" fill="#101010" />
<line x1="119.3" y1="1402.3" x2="119.3" y2="1413.9" stroke="#555" stroke-width="0.8" stroke-linecap="butt"/>
<polygon points="217.9,1359.6 241.1,1349.0 323.4,1341.6 310.8,1349.0 241.1,1364.9" fill="#1e1e1e" />
<polygon points="217.9,1370.7 241.1,1360.6 323.4,1353.2 310.8,1360.6 241.1,1376.5" fill="#1e1e1e" />
<polygon points="232.2,1347.4 290.2,1317.4 295.5,1319.5 295.5,1354.3 238.0,1385.9 232.2,1383.8" fill="#141414" />
<polygon points="215.8,1382.8 241.1,1371.2 303.4,1359.6 324.5,1364.9 324.5,1377.5 253.8,1414.4 215.8,1394.4" fill="#1a1a1a" />
<polygon points="215.8,1382.8 253.8,1401.8 324.5,1364.9 324.5,1377.5 253.8,1414.4 215.8,1394.4" fill="#252525" />
<polygon points="240.1,1382.8 309.7,1356.4 309.7,1369.1 253.8,1400.7 240.1,1393.3" fill="#161616" />
<polygon points="247.5,1355.4 302.3,1331.1 309.7,1333.7 309.7,1354.3 247.5,1378.6" fill="#242424" />
<line x1="247.5" y1="1355.6" x2="302.3" y2="1331.6" stroke="#555" stroke-width="1" stroke-linecap="butt"/>
<polygon points="232.2,1347.4 238.0,1349.0 238.0,1385.9 232.2,1383.8" fill="#101010" />
<polygon points="302.9,1325.8 309.7,1328.5 309.7,1354.3 302.9,1352.2" fill="#101010" />
<line x1="253.8" y1="1402.3" x2="253.8" y2="1413.9" stroke="#555" stroke-width="0.8" stroke-linecap="butt"/>
<polyline points="489.5,1306.0 489.5,1424.0 520.6,1417.0 520.6,1332.5 556.0,1327.7 556.0,1408.0 584.8,1401.5 584.8,1283.0" fill="none" stroke="#2a2a2a" stroke-width="2.5" stroke-linejoin="miter" stroke-linecap="butt" stroke-miterlimit="6" />
<line x1="489.5" y1="1306.0" x2="584.8" y2="1289.0" stroke="#2a2a2a" stroke-width="2.5" stroke-linecap="butt"/>
<polyline points="476.0,1298.0 480.0,1295.6 486.0,1302.0 488.5,1322.0" fill="none" stroke="#2a2a2a" stroke-width="2.6" stroke-linejoin="miter" stroke-linecap="butt" stroke-miterlimit="6" />
<polyline points="572.0,1284.0 579.0,1279.6 585.0,1285.0 586.5,1312.0" fill="none" stroke="#2a2a2a" stroke-width="2.6" stroke-linejoin="miter" stroke-linecap="butt" stroke-miterlimit="6" />
<line x1="488.0" y1="1298.0" x2="488.0" y2="1335.0" stroke="#2a2a2a" stroke-width="3" stroke-linecap="butt"/>
<line x1="584.5" y1="1282.0" x2="584.5" y2="1318.0" stroke="#2a2a2a" stroke-width="3" stroke-linecap="butt"/>
<polyline points="613.7,1300.0 613.7,1420.7 647.0,1412.5 647.0,1353.4 687.4,1345.4 687.4,1405.0 719.5,1401.5 719.5,1282.0" fill="none" stroke="#2a2a2a" stroke-width="2.5" stroke-linejoin="miter" stroke-linecap="butt" stroke-miterlimit="6" />
<line x1="613.7" y1="1302.0" x2="719.5" y2="1280.0" stroke="#2a2a2a" stroke-width="2.8" stroke-linecap="butt"/>
<polyline points="605.6,1290.8 610.0,1292.0 613.7,1305.0 614.0,1330.0" fill="none" stroke="#2a2a2a" stroke-width="2.4" stroke-linejoin="miter" stroke-linecap="butt" stroke-miterlimit="6" />
<polyline points="711.0,1272.0 716.0,1271.0 720.0,1282.0 720.5,1300.0" fill="none" stroke="#2a2a2a" stroke-width="2.4" stroke-linejoin="miter" stroke-linecap="butt" stroke-miterlimit="6" />
<path d="M896,1290 L906.5,1290 L908,1340 Q909,1345.5 916,1345.5 L1083.6,1345 L1083.6,1356.5 L914,1356.5 Q898,1356 897.5,1342 Z" fill="#333"/>
<line x1="900.0" y1="1295.0" x2="901.5" y2="1340.0" stroke="#666" stroke-width="1" stroke-linecap="butt"/>
<line x1="915.0" y1="1350.0" x2="1082.0" y2="1350.0" stroke="#5a5a5a" stroke-width="1" stroke-linecap="butt"/>
<rect x="908" y="1388" width="10" height="10" rx="3" fill="#1a1a1a"/>
<circle cx="901" cy="1393.4" r="11" fill="#1c1c1c"/>
<circle cx="901" cy="1393.4" r="6" fill="#2e2e2e"/>
<rect x="962" y="1388" width="10" height="10" rx="3" fill="#1a1a1a"/>
<circle cx="955" cy="1393.4" r="11" fill="#1c1c1c"/>
<circle cx="955" cy="1393.4" r="6" fill="#2e2e2e"/>
<rect x="1013.7" y="1388" width="10" height="10" rx="3" fill="#1a1a1a"/>
<circle cx="1006.7" cy="1393.4" r="11" fill="#1c1c1c"/>
<circle cx="1006.7" cy="1393.4" r="6" fill="#2e2e2e"/>
<rect x="1066.4" y="1388" width="10" height="10" rx="3" fill="#1a1a1a"/>
<circle cx="1059.4" cy="1393.4" r="11" fill="#1c1c1c"/>
<circle cx="1059.4" cy="1393.4" r="6" fill="#2e2e2e"/>
</svg></body></html>
